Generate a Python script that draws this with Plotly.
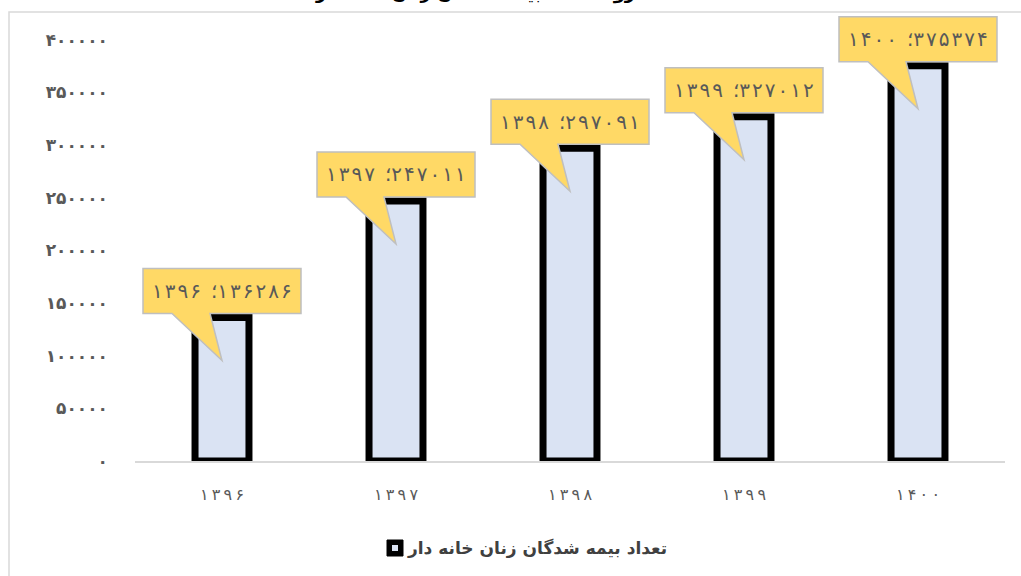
import plotly.graph_objects as go

# ---- data ----
years = ["1396", "1397", "1398", "1399", "1400"]
insured = [136286, 247011, 297091, 327012, 375374]
y_ticks = [0, 50000, 100000, 150000, 200000, 250000, 300000, 350000, 400000]
series_name = "تعداد بیمه شدگان زنان خانه دار"
chart_title = "روند تعداد بیمه شدگان زنان خانه دار"

FA = str.maketrans("0123456789", "۰۱۲۳۴۵۶۷۸۹")
THIN = "\u2009"
HAIR = "\u200a"
LRM = "\u200e"


def fa(v):
    return str(v).translate(FA)


def spaced(s, sep=THIN):
    return sep.join(s)


FONT = "DejaVu Sans"

W, H = 1021, 576
ML, MR, MT, MB = 135, 16, 3, 115
PW = W - ML - MR
PH = H - MT - MB
YMAX = 435000
XMIN, XMAX = -0.5, len(years) - 0.5


def dx(p):
    return p * (XMAX - XMIN) / PW


def dy(p):
    return p * YMAX / PH


def paper_x(px):
    return (px - ML) / PW


def paper_y(py):
    return (H - MB - py) / PH


xs = list(range(len(years)))

fig = go.Figure()
fig.add_trace(go.Bar(
    x=xs, y=insured, width=0.31,
    marker=dict(color="#DAE3F3", line=dict(color="black", width=7)),
    showlegend=False, hoverinfo="skip",
))

shapes = []
annotations = []
for i, (yr, v) in enumerate(zip(years, insured)):
    b = v + dy(4)
    t = b + dy(45)
    l = i - dx(79)
    r = i + dx(79)
    wl = i - dx(50)
    wr = i - dx(12)
    tip = v - dy(43)
    path = (f"M{l},{b} L{wl},{b} L{i},{tip} L{wr},{b} L{r},{b} "
            f"L{r},{t} L{l},{t} Z")
    shapes.append(dict(type="path", path=path, xref="x", yref="y",
                       fillcolor="#FFD966", line=dict(color="#BFBFBF", width=1.5),
                       layer="above"))
    annotations.append(dict(
        x=i, y=(b + t) / 2, xref="x", yref="y", showarrow=False,
        text=LRM + spaced(fa(yr), HAIR) + "\u2002؛" + LRM + spaced(fa(v), HAIR),
        font=dict(family=FONT, size=20, color="#595959"),
    ))

# chart border (outer frame)
shapes.append(dict(type="rect", xref="paper", yref="paper",
                   x0=paper_x(9), x1=paper_x(1040), y0=paper_y(600), y1=paper_y(12),
                   line=dict(color="#D9D9D9", width=1.5), fillcolor="rgba(0,0,0,0)",
                   layer="below"))

# legend marker
shapes.append(dict(type="rect", xref="paper", yref="paper",
                   xsizemode="pixel", ysizemode="pixel",
                   xanchor=paper_x(395), yanchor=paper_y(548),
                   x0=-8, x1=8, y0=-8, y1=8,
                   fillcolor="black", line=dict(color="black", width=1)))
shapes.append(dict(type="rect", xref="paper", yref="paper",
                   xsizemode="pixel", ysizemode="pixel",
                   xanchor=paper_x(395), yanchor=paper_y(548),
                   x0=-3, x1=3, y0=-3, y1=3,
                   fillcolor="#DAE3F3", line=dict(width=0)))
annotations.append(dict(
    x=paper_x(405), y=paper_y(548), xref="paper", yref="paper",
    xanchor="left", yanchor="middle", showarrow=False,
    text="<b>" + series_name + "</b>",
    font=dict(family=FONT, size=17, color="#404040"),
))

# title (cut off at the top of the picture, as in the source)
annotations.append(dict(
    x=paper_x(475), y=paper_y(6), xref="paper", yref="paper",
    xanchor="center", yanchor="bottom", showarrow=False,
    text="<b>" + chart_title + "</b>",
    font=dict(family=FONT, size=18, color="#000000"),
))

fig.update_layout(
    width=W, height=H, autosize=False,
    margin=dict(l=ML, r=MR, t=MT, b=MB),
    paper_bgcolor="white", plot_bgcolor="white",
    font=dict(family=FONT, color="#595959"),
    shapes=shapes, annotations=annotations,
    xaxis=dict(range=[XMIN, XMAX], tickvals=xs,
               ticktext=[spaced(fa(y)) for y in years],
               showgrid=False, zeroline=False, showline=True,
               linecolor="#D9D9D9", linewidth=1.5, ticks="",
               ticklabelstandoff=18,
               tickfont=dict(family=FONT, size=16, color="#595959")),
    yaxis=dict(range=[0, YMAX], tickvals=y_ticks,
               ticktext=["<b>" + fa(v) + "</b>" for v in y_ticks],
               showgrid=False, zeroline=False, showline=False, ticks="",
               ticklabelstandoff=26,
               tickfont=dict(family=FONT, size=17, color="#595959")),
    bargap=0.69,
)

fig.write_html("out.html", config={"displayModeBar": False},
               post_script="document.body.style.margin='0';")
